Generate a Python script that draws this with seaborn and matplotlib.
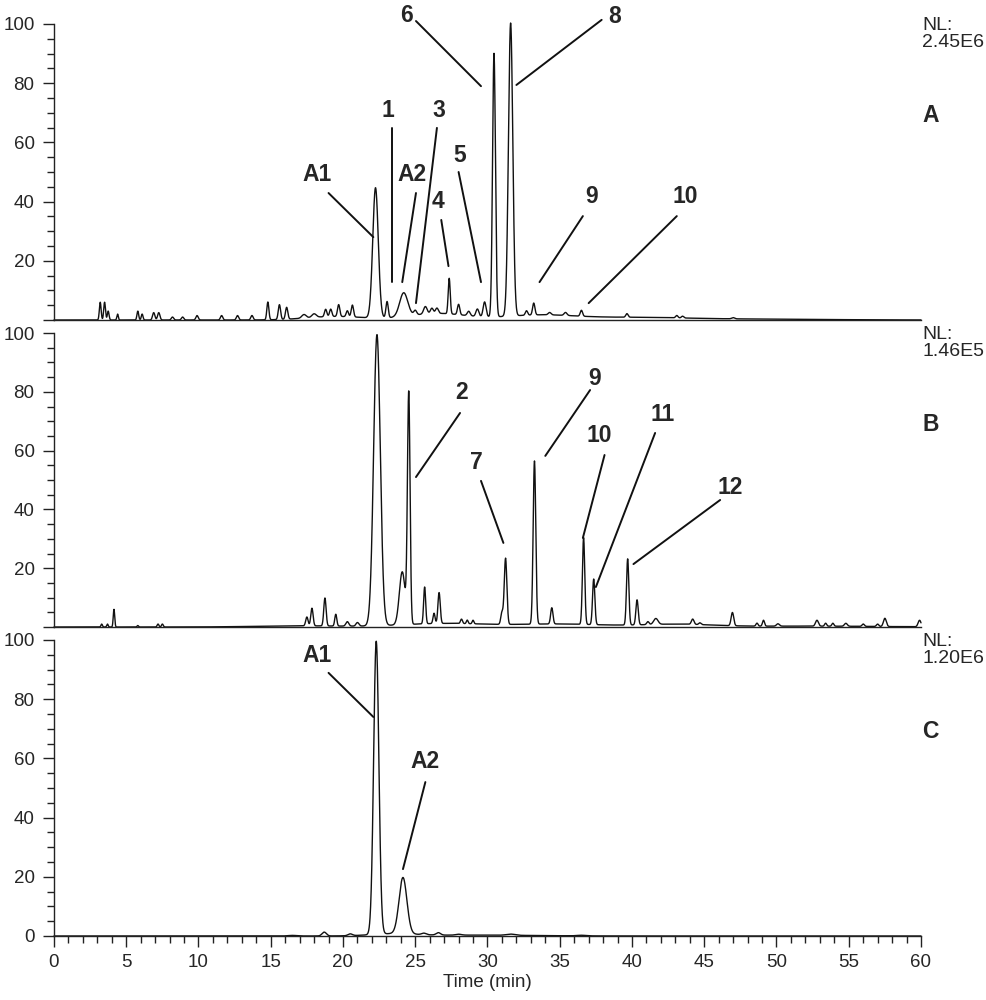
import numpy as np
import pandas as pd
import matplotlib
matplotlib.use("Agg")
import matplotlib.pyplot as plt
from matplotlib.ticker import MultipleLocator
import seaborn as sns

# Peak tables
# (retention time in min, relative abundance in %, peak sigma in min)
a_times = [3.2, 3.5, 3.75, 4.4, 5.8, 6.1, 6.9, 7.25, 8.2, 8.9, 9.9, 11.6, 12.7, 13.7,
           14.8, 15.6, 16.1, 17.3, 18.0, 18.8, 19.15, 19.7, 20.3, 20.65, 22.25, 23.05,
           24.2, 25.0, 25.7, 26.15, 26.5, 27.35, 28.0, 28.7, 29.3, 29.8, 30.45, 31.6,
           32.7, 33.2, 34.3, 35.4, 36.5, 39.65, 43.1, 43.5, 47.0]
a_heights = [6, 6, 3, 2, 3, 2, 2.5, 2.5, 1, 1, 1.5, 1.5, 1.5, 1.5,
             6, 5, 4, 1.2, 1.2, 2.5, 2.5, 4, 2, 4, 44, 5.5,
             8, 1.5, 2.5, 1.8, 1.8, 12, 3.5, 1.5, 2.5, 5, 89, 99,
             1.5, 4, 0.8, 1, 2, 1.2, 0.8, 0.6, 0.4]
a_widths = [0.06, 0.06, 0.06, 0.05, 0.06, 0.06, 0.08, 0.08, 0.08, 0.08, 0.08, 0.08, 0.08, 0.08,
            0.07, 0.08, 0.08, 0.15, 0.15, 0.08, 0.08, 0.08, 0.08, 0.08, 0.19, 0.08,
            0.28, 0.1, 0.12, 0.1, 0.1, 0.07, 0.08, 0.1, 0.1, 0.1, 0.1, 0.15,
            0.08, 0.08, 0.1, 0.1, 0.08, 0.08, 0.08, 0.08, 0.1]
# broad humps under the peaks (baseline drift)
a_base_times = [19.5, 26.5, 33.5, 40.0, 48.0]
a_base_heights = [1.2, 2.2, 1.6, 0.8, 0.3]
a_base_widths = [2.0, 2.0, 2.5, 3.5, 5.0]

b_times = [3.3, 3.7, 4.15, 5.8, 7.2, 7.5, 17.5, 17.85, 18.75, 19.5, 20.3, 21.0, 22.35,
           24.1, 24.55, 25.65, 26.3, 26.65, 28.2, 28.6, 29.0, 31.0, 31.25, 33.25, 34.45,
           36.65, 37.35, 39.7, 40.35, 41.1, 41.65, 44.2, 44.7, 46.95, 48.65, 49.1, 50.1,
           52.8, 53.4, 53.9, 54.8, 56.0, 57.0, 57.5, 59.9]
b_heights = [1, 1, 6, 0.5, 1, 1, 3, 6, 9.5, 4, 1.5, 1.2, 99,
             18, 78, 12.5, 3.5, 10.5, 1.5, 1.2, 1.2, 4, 22.5, 55.5, 5.5,
             29.5, 15.5, 22.5, 8.5, 1, 2, 1.8, 0.6, 4.5, 1, 2, 0.8,
             2, 1, 1, 1, 0.8, 0.8, 2.8, 2.2]
b_widths = [0.05, 0.05, 0.05, 0.05, 0.06, 0.06, 0.08, 0.08, 0.08, 0.07, 0.1, 0.1, 0.23,
            0.2, 0.09, 0.07, 0.07, 0.08, 0.07, 0.06, 0.06, 0.08, 0.09, 0.09, 0.08,
            0.08, 0.08, 0.08, 0.08, 0.08, 0.15, 0.09, 0.08, 0.09, 0.07, 0.07, 0.1,
            0.1, 0.07, 0.07, 0.1, 0.08, 0.08, 0.1, 0.1]
b_base_times = [17.0, 27.0, 35.0, 43.0, 52.0]
b_base_heights = [0.4, 1.2, 1.0, 0.9, 0.3]
b_base_widths = [3.0, 3.0, 3.0, 2.5, 5.0]

c_times = [16.5, 18.7, 20.5, 22.3, 24.15, 25.6, 26.6, 28.0, 31.6, 36.5]
c_heights = [0.2, 1.3, 0.6, 99, 19, 0.5, 0.8, 0.3, 0.4, 0.2]
c_widths = [0.3, 0.15, 0.15, 0.18, 0.27, 0.15, 0.15, 0.2, 0.3, 0.3]
c_base_times = [23.5, 29.0]
c_base_heights = [0.7, 0.3]
c_base_widths = [1.5, 4.0]

nl_texts = ["NL:\n2.45E6", "NL:\n1.46E5", "NL:\n1.20E6"]
panel_names = ["A", "B", "C"]
y_ticks = [0, 20, 40, 60, 80, 100]

# peak labels: (text, text x, text y, line x0, line y0, line x1, line y1)
a_labels = [("A1", 18.2, 49.0, 19.0, 42.9, 22.1, 28.0),
            ("1", 23.1, 70.9, 23.4, 64.9, 23.4, 12.8),
            ("A2", 24.8, 49.0, 25.05, 42.9, 24.1, 12.8),
            ("3", 26.6, 70.9, 26.5, 64.9, 25.05, 5.7),
            ("4", 26.6, 39.9, 26.8, 33.8, 27.3, 18.2),
            ("5", 28.1, 55.7, 28.0, 50.0, 29.55, 12.8),
            ("6", 24.4, 103.0, 25.05, 101.0, 29.55, 79.0),
            ("8", 38.8, 102.4, 37.9, 101.4, 32.0, 79.4),
            ("9", 37.2, 41.6, 36.6, 35.1, 33.6, 12.8),
            ("10", 43.7, 41.6, 43.1, 35.1, 37.0, 5.7)]
b_labels = [("2", 28.2, 79.6, 28.1, 72.8, 25.05, 51.0),
            ("7", 29.2, 55.8, 29.55, 49.7, 31.1, 28.6),
            ("9", 37.4, 84.4, 37.1, 80.6, 34.0, 58.2),
            ("10", 37.7, 65.0, 38.1, 58.5, 36.6, 30.3),
            ("11", 42.1, 72.4, 41.6, 66.0, 37.5, 13.6),
            ("12", 46.8, 47.3, 46.1, 43.2, 40.1, 21.4)]
c_labels = [("A1", 18.2, 94.9, 19.0, 88.9, 22.1, 74.0),
            ("A2", 25.7, 58.8, 25.7, 52.0, 24.15, 22.6)]


def trace(t, times, heights, widths, btimes, bheights, bwidths):
    y = np.zeros_like(t)
    for t0, h, s in zip(list(times) + list(btimes), list(heights) + list(bheights),
                        list(widths) + list(bwidths)):
        y += h * np.exp(-0.5 * ((t - t0) / s) ** 2)
    return y


sns.set_style("ticks")
plt.rcParams['font.family'] = ['Liberation Sans', 'DejaVu Sans']

t = np.linspace(0, 60, 6001)
df = pd.DataFrame({
    "time": t,
    "A": trace(t, a_times, a_heights, a_widths, a_base_times, a_base_heights, a_base_widths),
    "B": trace(t, b_times, b_heights, b_widths, b_base_times, b_base_heights, b_base_widths),
    "C": trace(t, c_times, c_heights, c_widths, c_base_times, c_base_heights, c_base_widths),
})

fig = plt.figure(figsize=(9.87, 10), dpi=100)
left, width = 54 / 987, 867 / 987
boxes = [(0.680, 0.296), (0.373, 0.294), (0.064, 0.296)]
all_labels = [a_labels, b_labels, c_labels]

for i, name in enumerate(panel_names):
    ax = fig.add_axes([left, boxes[i][0], width, boxes[i][1]])
    sns.lineplot(data=df, x="time", y=name, ax=ax, color="#111111", lw=1.0,
                 estimator=None, clip_on=False)
    ax.set_xlim(0, 60)
    ax.set_ylim(0, 100)
    sns.despine(ax=ax)
    ax.spines['left'].set_bounds(0, 100)
    for sp in ['left', 'bottom']:
        ax.spines[sp].set_linewidth(1.0)
        ax.spines[sp].set_color("#222222")

    # only the bottom panel carries a "0" label
    ax.set_yticks(y_ticks)
    if i < 2:
        ax.set_yticklabels([""] + [str(v) for v in y_ticks[1:]])
    else:
        ax.set_yticklabels([str(v) for v in y_ticks])
    ax.yaxis.set_minor_locator(MultipleLocator(5))
    ax.tick_params(axis='y', which='major', length=8, width=1.0, labelsize=13.5, pad=6,
                   color="#222222")
    ax.tick_params(axis='y', which='minor', length=5, width=1.0, color="#222222")
    ax.set_ylabel("")

    ax.text(60.1, 102.3, nl_texts[i], ha='left', va='top', fontsize=14,
            linespacing=0.95, clip_on=False)
    ax.text(60.1, 69, name, ha='left', va='center', fontsize=16.5, fontweight='bold',
            clip_on=False)

    for lab, tx, ty, x0, y0, x1, y1 in all_labels[i]:
        ax.text(tx, ty, lab, ha='center', va='center', fontsize=16.5,
                fontweight='bold', clip_on=False)
        ax.plot([x0, x1], [y0, y1], color="#111111", lw=1.4, clip_on=False)

    if i < 2:
        ax.tick_params(axis='x', which='both', bottom=False, labelbottom=False)
        ax.set_xlabel("")
    else:
        ax.xaxis.set_major_locator(MultipleLocator(5))
        ax.xaxis.set_minor_locator(MultipleLocator(1))
        ax.tick_params(axis='x', which='major', length=8, width=1.0, labelsize=13.5, pad=5,
                       color="#222222")
        ax.tick_params(axis='x', which='minor', length=5, width=1.0, color="#222222")
        ax.set_xlabel("Time (min)", fontsize=13.5, labelpad=2)

fig.savefig("out.png", dpi=100)
